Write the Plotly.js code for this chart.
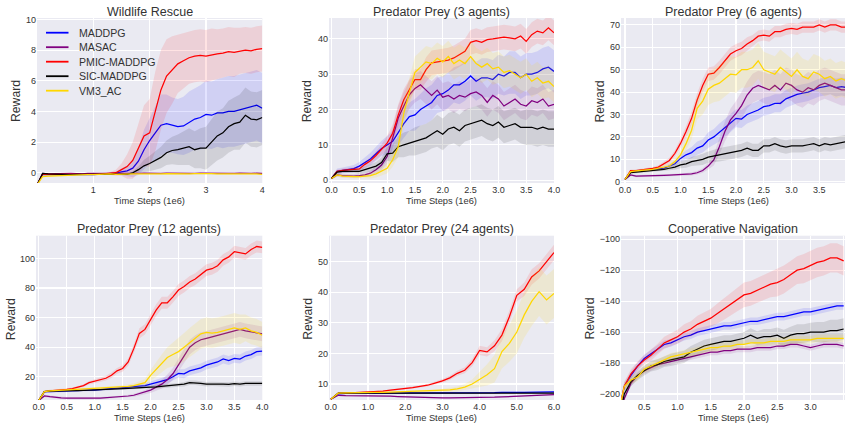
<!DOCTYPE html>
<html>
<head>
<meta charset="utf-8">
<script src="https://cdn.plot.ly/plotly-3.0.1.min.js"></script>
<style>
html,body{margin:0;padding:0;background:#fff;}
#chart{width:845px;height:426px;}
</style>
</head>
<body>
<div id="chart"></div>
<script>
// ---------------- DATA ----------------
const methods = ['MADDPG', 'MASAC', 'PMIC-MADDPG', 'SIC-MADDPG', 'VM3_AC'];
const panelTitles = ['Wildlife Rescue', 'Predator Prey (3 agents)', 'Predator Prey (6 agents)',
                     'Predator Prey (12 agents)', 'Predator Prey (24 agents)', 'Cooperative Navigation'];
const xTitle = 'Time Steps (1e6)';
const yTitle = 'Reward';

// time steps (1e6)
const steps4 = [0.0,0.1,0.2,0.3,0.4,0.5,0.6,0.7,0.8,0.9,1.0,1.1,1.2,1.3,1.4,1.5,1.6,1.7,1.8,1.9,2.0,
                2.1,2.2,2.3,2.4,2.5,2.6,2.7,2.8,2.9,3.0,3.1,3.2,3.3,3.4,3.5,3.6,3.7,3.8,3.9,4.0];
const steps6 = [0.0,0.2,0.4,0.6,0.8,1.0,1.2,1.4,1.6,1.8,2.0,2.2,2.4,2.6,2.8,3.0,3.2,3.4,3.6,3.8,4.0,
                4.2,4.4,4.6,4.8,5.0,5.2,5.4,5.6,5.8,6.0];
const stepsCN = [0.1,0.2,0.3,0.4,0.5,0.6,0.7,0.8,0.9,1.0,1.1,1.2,1.3,1.4,1.5,1.6,1.7,1.8,1.9,2.0,
                 2.1,2.2,2.3,2.4,2.5,2.6,2.7,2.8,2.9,3.0,3.1,3.2,3.3,3.4,3.5];

// Wildlife Rescue
const wr_maddpg = [-0.8,-0.1,-0.12,-0.1,-0.12,-0.1,-0.12,-0.1,-0.12,-0.1, -0.12,-0.1,-0.08,-0.05,-0.02,0.05,0.12,0.3,0.75,1.5, 2.1,2.6,3.1,3.2,3.1,3.0,3.05,3.3,3.5,3.6, 3.8,3.75,3.9,3.9,4.0,4.0,4.1,4.2,4.3,4.4,4.2];
const wr_maddpg_sd = [0,0.05,0.05,0.05,0.05,0.05,0.05,0.05,0.05,0.05, 0.05,0.05,0.06,0.08,0.1,0.2,0.35,0.6,0.9,1.3, 1.5,1.8,2.0,1.9,1.8,1.8,1.9,2.0,2.0,2.1, 2.2,2.2,2.2,2.3,2.3,2.3,2.3,2.3,2.3,2.3,2.3];
const wr_masac = [-0.8,-0.05,-0.08,-0.06,-0.05,-0.07,-0.05,-0.06,-0.08,-0.05, -0.06,-0.05,-0.07,-0.05,-0.04,-0.05,-0.06,-0.04,-0.05,-0.03, -0.05,-0.04,-0.05,-0.03,-0.04,-0.05,-0.03,-0.04,-0.05,-0.03, -0.04,-0.05,-0.03,-0.04,-0.05,-0.04,-0.03,-0.05,-0.04,-0.03,-0.05];
const wr_masac_sd = [0,0.05,0.05,0.05,0.05,0.05,0.05,0.05,0.05,0.05, 0.05,0.05,0.05,0.05,0.05,0.05,0.05,0.05,0.05,0.05, 0.05,0.05,0.05,0.05,0.05,0.05,0.05,0.05,0.05,0.05, 0.05,0.05,0.05,0.05,0.05,0.05,0.05,0.05,0.05,0.05,0.05];
const wr_pmic = [-0.8,-0.1,-0.1,-0.12,-0.1,-0.1,-0.12,-0.1,-0.1,-0.12, -0.1,-0.1,-0.08,-0.05,0.0,0.2,0.4,0.8,1.6,2.4, 2.6,4.0,5.4,6.3,6.7,7.1,7.3,7.5,7.6,7.65, 7.6,7.7,7.75,7.8,7.9,7.85,7.95,8.0,7.95,8.05,8.1];
const wr_pmic_sd = [0,0.05,0.05,0.05,0.05,0.05,0.05,0.05,0.05,0.05, 0.05,0.05,0.06,0.1,0.2,0.4,0.8,1.2,1.6,2.0, 2.2,2.6,2.6,2.4,2.2,1.9,1.8,1.7,1.7,1.7, 1.7,1.7,1.6,1.6,1.6,1.6,1.5,1.5,1.5,1.5,1.5];
const wr_sic = [-0.8,-0.05,-0.08,-0.1,-0.08,-0.1,-0.12,-0.1,-0.12,-0.1, -0.1,-0.12,-0.1,-0.1,-0.12,-0.1,-0.1,0.0,0.2,0.45, 0.6,0.8,1.0,1.3,1.45,1.5,1.6,1.7,1.5,1.6, 1.6,2.0,2.4,2.6,3.0,3.2,3.3,3.75,3.5,3.45,3.6];
const wr_sic_sd = [0,0.05,0.05,0.05,0.05,0.05,0.05,0.05,0.05,0.05, 0.05,0.05,0.05,0.05,0.05,0.05,0.05,0.1,0.2,0.4, 0.5,0.6,0.7,0.8,0.9,1.0,1.1,1.2,1.2,1.3, 1.4,1.5,1.6,1.6,1.7,1.7,1.8,1.8,1.8,1.8,1.8];
const wr_vm3 = [-0.8,-0.25,-0.22,-0.2,-0.18,-0.18,-0.15,-0.15,-0.14,-0.12, -0.12,-0.1,-0.1,-0.08,-0.1,-0.08,-0.1,-0.08,-0.07,-0.08, -0.07,-0.06,-0.08,-0.06,-0.07,-0.06,-0.05,-0.07,-0.06,-0.05, -0.07,-0.06,-0.08,-0.06,-0.07,-0.08,-0.07,-0.08,-0.09,-0.08,-0.1];
const wr_vm3_sd = [0,0.05,0.05,0.05,0.05,0.05,0.05,0.05,0.05,0.05, 0.05,0.05,0.05,0.05,0.05,0.05,0.05,0.05,0.05,0.05, 0.05,0.05,0.05,0.05,0.05,0.05,0.05,0.05,0.05,0.05, 0.05,0.05,0.05,0.05,0.05,0.05,0.05,0.05,0.05,0.05,0.05];

// Predator Prey (3 agents)
const pp3_maddpg = [0.5,2.5,2.8,3.0,3.3,4.0,5.0,6.0,7.5,9.0, 10,11,13.5,16,18,18.5,20,21,22,24, 24.5,25.5,27,27,28,29.5,28,29,29,28.5, 30,29.5,30.5,30.5,29,30,30,30.5,31.5,32,30.8];
const pp3_maddpg_sd = [0.3,0.8,0.8,0.9,1.0,1.2,1.5,1.8,2.0,2.2, 2.5,3,3.5,4,4,4.5,4.5,5,5,5, 5,5,5,5.5,5.5,5.5,5.5,5.5,5.5,5.5, 5.5,5.5,6,6,6,6,6,6,6,6,6];
const pp3_masac = [0.5,1.5,1.3,1.2,1.2,1.3,1.5,2,3,4.3, 6.7,12,17.6,21,24.2,26,27,25.5,24,25.5, 23.5,24,23,24,23.5,24.5,25,24,22,24, 23,21,22,23,21.5,21,22.5,22,23,21,21.5];
const pp3_masac_sd = [0.3,0.5,0.5,0.5,0.5,0.5,0.6,0.8,1,1.5, 2,3,3.5,4,4,4,4,4,4,4, 4,4,4,4,4,4,4,4,4,4, 4,4,4,4,4,4,4,4,4,4,4];
const pp3_pmic = [0.5,2.5,2.8,3.0,3.0,3.2,4.5,5.5,7.0,8.6, 10.5,13.3,18.5,22.8,25.6,28.5,28.5,31.3,33.2,33.5, 33.7,34,34.6,35.5,36.5,39,39.5,39,39.8,40, 40.3,40.5,40.3,40,40.8,39.3,41.2,42.2,41.7,43.1,41.7];
const pp3_pmic_sd = [0.3,0.5,0.5,0.5,0.6,0.7,0.8,1,1.2,1.5, 2,2.5,3,3,3,3,3,3.5,3.5,3.5, 3.5,3.5,3.5,3.5,3.5,3.5,3.5,3.5,3.5,3.5, 3.5,3.5,3.5,3.5,3.5,3.5,3.5,3.5,3.5,3.5,3.5];
const pp3_sic = [0.5,2.3,2.5,2.5,2.7,2.5,3.0,3.5,4.0,5.0, 7.5,7.7,9.5,10,10.5,11,11.5,12,13,14, 13,14.5,15,14,15.5,16,16.5,17,16,15.5, 16.5,15,15.5,16,15,15,15,14.5,15,14.5,14.5];
const pp3_sic_sd = [0.3,0.5,0.5,0.5,0.6,0.7,0.8,1,1.2,1.5, 2,2.5,3,3.5,3.5,4,4,4,4,4.5, 4.5,4.5,4.5,4.5,4.5,4.5,4.5,4.5,4.5,4.5, 4.5,4.5,4.5,4.5,4.5,5,5,5,5,5,5];
const pp3_vm3 = [0.5,1.5,1.2,1.0,1.0,1.0,1.1,1.3,1.8,2.5, 3.4,5.8,9.5,19,25,30.5,32,33.5,33,34.5, 33.5,35,33,34,33,35,33,32,33,31.5, 32,30.5,31,30,29,30,28,29,27.5,28,26.5];
const pp3_vm3_sd = [0.3,0.5,0.5,0.5,0.5,0.5,0.6,0.8,1,1.2, 1.5,2,3,4,4,4.5,4.5,4.5,4.5,4.5, 4.5,4.5,4.5,4.5,4.5,4.5,4.5,4.5,4.5,4.5, 4.5,4.5,4.5,4.5,4.5,4.5,4.5,4.5,4.5,4.5,4.5];

// Predator Prey (6 agents)
const pp6_maddpg = [1,4.5,4.8,5,5.2,5.5,5.8,6,7,8, 10.4,12,13,15,16,18.6,20,22,24,26, 28.3,28,30,31,32,33.5,34,35,35,37, 38,39,39.5,40,41,42,42.5,43,42,42.5,42];
const pp6_maddpg_sd = [0.3,0.5,0.5,0.5,0.5,0.6,0.7,0.8,1,1.2, 1.5,2,2.5,3,3,3.5,3.5,4,4,4, 4,4,4,4,4,4,4,4,4,4, 4,4,4,4,4,4,4,4,4,4,4];
const pp6_masac = [1,3,2.5,2.5,2.6,2.7,2.7,2.8,2.9,3, 3,3.3,3.5,4,5,7,9.7,15.6,22.4,27.6, 30.5,34,38.7,41.7,43,42,41,43,41,44, 43,41,40,42,41,43,44,43,42,41,41];
const pp6_masac_sd = [0.3,0.5,0.5,0.5,0.5,0.5,0.5,0.5,0.5,0.5, 0.5,0.6,0.7,0.8,1,1.5,2.5,3.5,4.5,5, 5.5,6,6,6.5,6.5,7,7,7,7,7, 7,7,7,7,7,7,7,7,7,7,7];
const pp6_pmic = [1,5,5,5.3,5.5,6,6.5,8,9.5,12.7, 17.1,22.4,28.3,36.5,43,48,48.5,51,54,57, 58.5,59.5,61.5,63,65,65.5,65,67,67,68, 68.5,68,69,69,69,70,69,70,70,69,69];
const pp6_pmic_sd = [0.3,0.5,0.5,0.5,0.5,0.6,0.8,1,1.2,1.5, 2,2.5,3,3,3,3,3,3,3,3, 3,3,3,2.5,2.5,2.5,2.5,2.5,2.5,2.5, 2.5,2.5,2.5,2.5,2.5,2.5,2.5,2.5,2.5,2.5,2.5];
const pp6_sic = [1,4,4.3,4.5,4.8,5,5.2,5.5,6,6.5, 7.5,8,9,9.5,10,11,11.5,12,12.5,13, 13.5,14,15,14,14,16,16,17,16,15.5, 16,16,16,16.5,17,16,17,16.5,17,17.5,18];
const pp6_sic_sd = [0.3,0.5,0.5,0.5,0.5,0.6,0.7,0.8,1,1.2, 1.5,1.8,2,2.2,2.5,2.5,2.8,3,3,3, 3,3,3,3,3,3,3,3,3,3, 3,3,3,3,3,3,3,3,3,3,3];
const pp6_vm3 = [1,4.5,4.8,5,5.2,5.5,6,6.5,7,9, 12,17,23,32.8,36,41.3,43,44,46,48, 47.7,50,50,51,54,50,49,48,51,49, 47,50,47,46,49,48,46,47,45,46,45];
const pp6_vm3_sd = [0.3,0.5,0.5,0.5,0.5,0.6,0.8,1,1.2,1.5, 2,3,4,5,6,7,7.5,8,8,8, 8,8,8,8,8,8,8,8,8,8, 8,8,8,8,8,8,8,8,8,8,8];

// Predator Prey (12 agents)
const pp12_maddpg = [4,10,10,10.2,10.3,10.5,10.6,10.8,11,11, 11,11.3,11.6,12,12.2,12.5,12.8,13,13.5,14, 15,16,17,18,20,22.3,22,24,25,26, 27.9,29,30,32,31,32.4,32,34,35,37,37.4];
const pp12_maddpg_sd = [0.5,0.8,0.8,0.8,0.8,0.8,0.8,0.8,0.8,0.8, 0.8,0.8,0.8,0.8,0.9,1,1,1.2,1.3,1.5, 1.8,2,2.2,2.5,2.5,2.8,3,3,3,3, 3,3,3,3,3,3,3,3,3,3,3];
const pp12_masac = [4,7,6.5,6,5.8,5.6,5.5,5.5,5.5,5.5, 5.5,5.6,5.8,6,6.3,6.6,7,7.5,8.5,9.5, 11,13,15,18,22,28,34,40,43,45, 46,47,48,49,50,51.5,52,51,50.5,50,49];
const pp12_masac_sd = [0.5,0.8,0.8,0.8,0.8,0.8,0.8,0.8,0.8,0.8, 0.8,0.8,0.8,0.8,0.8,0.8,0.9,1,1.2,1.5, 2,2.5,3,3.5,4,4.5,5,5,5,5, 5,5,5,5,5,5,5,5,5,5,5];
const pp12_pmic = [4,10,10.5,10.7,11,11.5,12,13,14,16, 17,18,19,21,24,25.6,30,39,49.3,52, 58.3,65,70,70,74,78.6,81,84,86,89, 92,93,95,99,101,104.5,104,103,106,108,107.4];
const pp12_pmic_sd = [0.5,0.8,0.8,0.8,0.8,0.8,0.8,0.9,1,1.2, 1.3,1.5,1.6,1.8,2,2.2,2.5,3,3.5,3.5, 3.5,4,4,4,4,4,4,4,4,4, 4,4,4,4,4,4,4,4,4,4,4];
const pp12_sic = [4,10,10.3,10.5,10.5,10.5,10.6,10.7,10.8,10.9, 11,11.1,11.3,11.5,11.7,12,12.2,12.5,12.7,13, 13,13.2,13.5,13.8,14,14.5,15,16,16,15.5, 15,15.2,15,15,14.8,15.3,15,15.5,15.3,15.5,15.5];
const pp12_sic_sd = [0.5,0.5,0.5,0.5,0.5,0.5,0.5,0.5,0.5,0.5, 0.5,0.5,0.6,0.6,0.7,0.7,0.8,0.8,0.9,1, 1,1,1.2,1.2,1.3,1.3,1.5,1.5,1.5,1.5, 1.5,1.5,1.5,1.5,1.5,1.5,1.5,1.5,1.5,1.5,1.5];
const pp12_vm3 = [4,10,10.5,10.7,11,11,11.3,11.5,11.7,12, 12,12.3,12.5,12.8,13,13.3,13.5,14,15,16, 21,25,29,33,35,37,40,43,46,49, 50,49.5,50,51,52,53,52,53,51,50,48];
const pp12_vm3_sd = [0.5,0.8,0.8,0.8,0.8,0.8,0.8,0.8,0.8,0.8, 0.8,0.8,0.9,1,1,1.2,1.3,1.5,2,2.5, 3.5,5,6,7,8,9,9.5,10,10,10, 10,10,10,10,10,10,10,9,9,9,9];

// Predator Prey (24 agents)
const pp24_maddpg = [5,6.8,6.9,7,7,7,7,7,7.1,7.1, 7.1,7.1,7.1,7.1,7.2,7.2,7.1,7.2,7.2,7.2, 7.2,7.2,7.2,7.3,7.2,7.3,7.3,7.3,7.4,7.5,7.4];
const pp24_maddpg_sd = [0.2,0.2,0.2,0.2,0.2,0.2,0.2,0.2,0.2,0.2, 0.2,0.2,0.2,0.2,0.2,0.2,0.2,0.2,0.2,0.2, 0.2,0.2,0.2,0.2,0.2,0.2,0.2,0.3,0.3,0.3,0.3];
const pp24_masac = [5,6.3,6.2,6.2,6.1,6.1,6,6,6,5.9, 5.8,5.8,5.7,5.7,5.6,5.5,5.5,5.5,5.6,5.5, 5.6,5.6,5.7,5.8,5.9,6,6.1,6.2,6.3,6.4,6.5];
const pp24_masac_sd = [0.2,0.2,0.2,0.2,0.2,0.2,0.2,0.2,0.2,0.2, 0.2,0.2,0.2,0.2,0.2,0.2,0.2,0.2,0.2,0.2, 0.2,0.2,0.2,0.2,0.2,0.2,0.2,0.2,0.2,0.2,0.2];
const pp24_pmic = [5,7,7,7.1,7.2,7.4,7.5,7.7,8,8.2, 8.5,8.8,9.2,9.6,10.3,11,12,13.5,14.5,17, 21,20.5,22.5,26,32,39,41,45,47,50,53];
const pp24_pmic_sd = [0.2,0.2,0.2,0.2,0.2,0.2,0.2,0.2,0.2,0.3, 0.3,0.3,0.4,0.4,0.5,0.6,0.7,0.8,1,1.2, 1.5,1.5,1.8,2,2,2,2.2,2.5,2.5,2.5,2.5];
const pp24_sic = [5,7,7,7,7,7,7,7,7,7.1, 7,7.1,7,7.1,7,7,7.1,7,7.1,7, 7.1,7,7,7.1,7,7.1,7,7.1,7,7.1,7];
const pp24_sic_sd = [0.2,0.2,0.2,0.2,0.2,0.2,0.2,0.2,0.2,0.2, 0.2,0.2,0.2,0.2,0.2,0.2,0.2,0.2,0.2,0.2, 0.2,0.2,0.2,0.2,0.2,0.2,0.2,0.2,0.2,0.2,0.2];
const pp24_vm3 = [5,7,7.1,7.2,7.2,7.3,7.3,7.3,7.4,7.4, 7.5,7.5,7.6,7.7,7.8,7.9,8.1,8.4,9,10, 11.5,13,15,20.6,23.3,27,32.6,37,40.2,37.5,39.6];
const pp24_vm3_sd = [0.2,0.2,0.2,0.2,0.2,0.2,0.2,0.2,0.2,0.2, 0.2,0.2,0.3,0.3,0.4,0.5,0.6,0.8,1,1.5, 2.5,3.5,4.5,5.5,6,7,7.5,8,8,8,8];

// Cooperative Navigation
const cn_maddpg = [-215,-195,-188,-182,-177,-174,-171,-168,-167,-165, -163,-162,-160,-159,-158,-157,-156,-156,-155,-154, -153,-153,-152,-151,-150,-150,-149,-148,-147,-147, -146,-145,-144,-143,-143];
const cn_maddpg_sd = [3,2.5,2.5,2.5,2.5,2.5,2.5,2.5,2.5,2.5, 2.5,2.5,2.5,2.5,2.5,2.5,2.5,2.5,2.5,2.5, 2.5,2.5,2.5,2.5,2.5,2.5,2.5,2.5,2.5,2.5, 2.5,2.5,2.5,2.5,2.5];
const cn_masac = [-220,-203,-193,-188,-185,-183,-181,-180,-179,-178, -177,-176,-175,-174,-173,-173,-172,-172,-171,-171, -171,-170,-170,-170,-169,-169,-168,-168,-169,-170, -169,-168,-168,-168,-169];
const cn_masac_sd = [3,2,2,2,2,2,2,2,2,2, 2,2,2,2,2,2,2,2,2,2, 2,2,2,2,2,2,2,2,2,2, 2,2,2,2,2];
const cn_pmic = [-215,-195,-187,-182,-178,-175,-171,-167,-165,-163, -160,-158,-155,-153,-151,-148,-145,-142,-139,-136, -135,-133,-131,-129,-128,-126,-123,-120,-119,-117, -115,-114,-112,-112,-114];
const cn_pmic_sd = [3,3,3,3,3,3.5,3.5,4,4,4.5, 5,5,5.5,6,6,6.5,7,7,7.5,8, 8,8,8.5,8.5,9,9,9,9,9.5,9.5, 9.5,9.5,9.5,9.5,9.5];
const cn_sic = [-220,-200,-192,-188,-185,-182,-181,-179,-178,-177, -176,-173,-171,-169,-168,-167,-166,-166,-165,-164, -162,-164,-163,-163,-162,-164,-162,-161,-161,-160, -160,-160,-159,-159,-158];
const cn_sic_sd = [3,3,3,3,3,3.5,3.5,3.5,4,4, 4,4,4,4,4,4,4,4,4,4, 4.5,4.5,5,5,5,5.5,5.5,6,6,6, 6.5,6.5,7,7,7];
const cn_vm3 = [-215,-195,-191,-189,-184,-182,-180,-178,-176,-175, -174,-173,-172,-171,-170,-170,-169,-169,-168,-168, -167,-167,-167,-166,-166,-166,-165,-165,-165,-165, -164,-164,-164,-164,-164];
const cn_vm3_sd = [3,2.5,2.5,2.5,2.5,2.5,2.5,2.5,2.5,2.5, 2.5,2.5,2.5,2.5,2.5,2.5,2.5,2.5,2.5,2.5, 2.5,2.5,2.5,2.5,2.5,2.5,2.5,2.5,2.5,2.5, 2.5,2.5,2.5,2.5,2.5];

const panelData = [
  {x: steps4, mean: [wr_maddpg, wr_masac, wr_pmic, wr_sic, wr_vm3], sd: [wr_maddpg_sd, wr_masac_sd, wr_pmic_sd, wr_sic_sd, wr_vm3_sd]},
  {x: steps4, mean: [pp3_maddpg, pp3_masac, pp3_pmic, pp3_sic, pp3_vm3], sd: [pp3_maddpg_sd, pp3_masac_sd, pp3_pmic_sd, pp3_sic_sd, pp3_vm3_sd]},
  {x: steps4, mean: [pp6_maddpg, pp6_masac, pp6_pmic, pp6_sic, pp6_vm3], sd: [pp6_maddpg_sd, pp6_masac_sd, pp6_pmic_sd, pp6_sic_sd, pp6_vm3_sd]},
  {x: steps4, mean: [pp12_maddpg, pp12_masac, pp12_pmic, pp12_sic, pp12_vm3], sd: [pp12_maddpg_sd, pp12_masac_sd, pp12_pmic_sd, pp12_sic_sd, pp12_vm3_sd]},
  {x: steps6, mean: [pp24_maddpg, pp24_masac, pp24_pmic, pp24_sic, pp24_vm3], sd: [pp24_maddpg_sd, pp24_masac_sd, pp24_pmic_sd, pp24_sic_sd, pp24_vm3_sd]},
  {x: stepsCN, mean: [cn_maddpg, cn_masac, cn_pmic, cn_sic, cn_vm3], sd: [cn_maddpg_sd, cn_masac_sd, cn_pmic_sd, cn_sic_sd, cn_vm3_sd]}
];

// ---------------- STYLE ----------------
const lineColors = ['#0000FF', '#800080', '#FF0000', '#000000', '#FFD700'];
const bandColors = ['rgba(0,0,255,0.11)', 'rgba(128,0,128,0.11)', 'rgba(255,0,0,0.11)', 'rgba(0,0,0,0.11)', 'rgba(255,215,0,0.13)'];
const W = 845, H = 426;
const FONT = 'Liberation Sans, Arial, Helvetica, sans-serif';
const TXT = '#333333';

// pixel layout of each panel
const panels = [
  {xd: [37, 262.3], yd: [18, 183], xr: [0, 4], yr: [-0.67, 10.09], xt: {tickvals: [1, 2, 3, 4], tickformat: 'd'}, yt: {tick0: 0, dtick: 2}},
  {xd: [329, 554], yd: [18, 183], xr: [-0.045, 4], yr: [-0.77, 45.9], xt: {tick0: 0, dtick: 0.5, tickformat: '.1f'}, yt: {tick0: 0, dtick: 10}},
  {xd: [621, 845], yd: [18, 183], xr: [-0.072, 3.964], yr: [-0.58, 73.1], xt: {tick0: 0, dtick: 0.5, tickformat: '.1f'}, yt: {tick0: 0, dtick: 10}},
  {xd: [36, 262.3], yd: [235.7, 400], xr: [-0.05, 4], yr: [4.3, 115.3], xt: {tick0: 0, dtick: 0.5, tickformat: '.1f'}, yt: {tick0: 0, dtick: 20}},
  {xd: [329, 554], yd: [235.7, 400], xr: [-0.05, 6], yr: [4.77, 58.5], xt: {tick0: 0, dtick: 1, tickformat: '.1f'}, yt: {tick0: 0, dtick: 10}},
  {xd: [621, 845], yd: [235.7, 400], xr: [0.15, 3.52], yr: [-203.9, -97.7], xt: {tick0: 0, dtick: 0.5, tickformat: '.1f'}, yt: {tick0: 0, dtick: 20}}
];
const yTitleX = [16.5, 307.7, 600, 11.3, 308, 589.7];

const px = v => v / W;
const py = v => 1 - v / H;

const traces = [];
const layout = {
  width: W, height: H,
  margin: {l: 0, r: 0, t: 0, b: 0},
  paper_bgcolor: '#ffffff',
  plot_bgcolor: '#EAEAF2',
  showlegend: false,
  font: {family: FONT, size: 9, color: TXT},
  annotations: [],
  shapes: []
};

panels.forEach((p, i) => {
  const k = i + 1;
  const xa = 'x' + (k === 1 ? '' : k), ya = 'y' + (k === 1 ? '' : k);
  const axStyle = {
    showgrid: true, gridcolor: '#ffffff', gridwidth: 1.1, zeroline: false, showline: false,
    ticks: '', tickfont: {family: FONT, size: 9, color: TXT}, fixedrange: true
  };
  layout['xaxis' + (k === 1 ? '' : k)] = Object.assign({}, axStyle, p.xt, {
    domain: [px(p.xd[0]), px(p.xd[1])], range: p.xr, anchor: ya, tickmode: p.xt.tickvals ? 'array' : 'linear'
  });
  layout['yaxis' + (k === 1 ? '' : k)] = Object.assign({}, axStyle, p.yt, {
    domain: [py(p.yd[1]), py(p.yd[0])], range: p.yr, anchor: xa, tickmode: 'linear'
  });

  const d = panelData[i];
  methods.forEach((m, j) => {
    const mean = d.mean[j], sd = d.sd[j];
    const lo = mean.map((v, t) => v - sd[t]);
    const hi = mean.map((v, t) => v + sd[t]);
    traces.push({x: d.x, y: lo, xaxis: xa, yaxis: ya, type: 'scatter', mode: 'lines',
                 line: {width: 0, color: bandColors[j]}, hoverinfo: 'skip', showlegend: false});
    traces.push({x: d.x, y: hi, xaxis: xa, yaxis: ya, type: 'scatter', mode: 'lines',
                 line: {width: 0, color: bandColors[j]}, fill: 'tonexty', fillcolor: bandColors[j],
                 hoverinfo: 'skip', showlegend: false});
    traces.push({x: d.x, y: mean, xaxis: xa, yaxis: ya, type: 'scatter', mode: 'lines', name: m,
                 line: {width: 1.25, color: lineColors[j]}, showlegend: false});
  });

  const cx = (p.xd[0] + p.xd[1]) / 2;
  const top = p.yd[0];
  // panel title
  layout.annotations.push({text: panelTitles[i], xref: 'paper', yref: 'paper', x: px(cx), y: py(top - 6.5),
    xanchor: 'center', yanchor: 'middle', showarrow: false, font: {family: FONT, size: 12.5, color: TXT}});
  // x axis title
  layout.annotations.push({text: xTitle, xref: 'paper', yref: 'paper', x: px(cx), y: py(p.yd[1] + 17.5),
    xanchor: 'center', yanchor: 'middle', showarrow: false, font: {family: FONT, size: 9.3, color: TXT}});
  // y axis title
  layout.annotations.push({text: yTitle, xref: 'paper', yref: 'paper', x: px(yTitleX[i]), y: py((p.yd[0] + p.yd[1]) / 2 + 1),
    xanchor: 'center', yanchor: 'middle', textangle: -90, showarrow: false, font: {family: FONT, size: 12.2, color: TXT}});
});

// legend (inside first panel)
const legRows = [32.7, 47.2, 61.7, 76.2, 90.7];
methods.forEach((m, j) => {
  layout.shapes.push({type: 'line', xref: 'paper', yref: 'paper', x0: px(46), x1: px(68.5), y0: py(legRows[j]), y1: py(legRows[j]),
    line: {color: lineColors[j], width: 1.8}});
  layout.annotations.push({text: m, xref: 'paper', yref: 'paper', x: px(76.5), y: py(legRows[j]),
    xanchor: 'left', yanchor: 'middle', showarrow: false, font: {family: FONT, size: 10.6, color: TXT}});
});

Plotly.newPlot('chart', traces, layout, {staticPlot: true, displayModeBar: false});
</script>
</body>
</html>
